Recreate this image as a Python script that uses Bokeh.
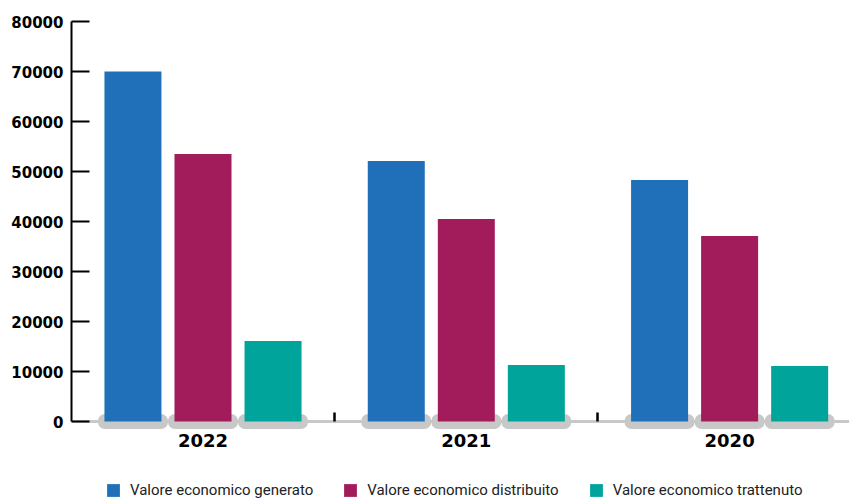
from bokeh.plotting import figure
from bokeh.models import ColumnDataSource, Range1d, FixedTicker, Span, Legend, LegendItem
from bokeh.transform import dodge
from bokeh.core.properties import value
from bokeh.embed import file_html
from bokeh.resources import INLINE

# ---- data ----
years = ["2022", "2021", "2020"]
series_names = ["Valore economico generato", "Valore economico distribuito", "Valore economico trattenuto"]
generato = [70000, 52100, 48300]
distribuito = [53500, 40500, 37100]
trattenuto = [16100, 11300, 11100]
y_ticks = [0, 10000, 20000, 30000, 40000, 50000, 60000, 70000, 80000]

colors = ["#1F70B8", "#A21B5B", "#00A49B"]
pill_color = "#C8C8C8"

pos = list(range(len(years)))
source = ColumnDataSource(dict(pos=pos, year=years, generato=generato,
                               distribuito=distribuito, trattenuto=trattenuto))

p = figure(width=849, height=501, output_backend="svg", toolbar_location=None,
           x_range=Range1d(-0.4994, 2.4553), y_range=Range1d(-16000, 80000),
           min_border_left=71, min_border_right=0, min_border_top=21, min_border_bottom=0)

p.grid.visible = False
p.outline_line_color = None
p.background_fill_color = "white"
p.border_fill_color = "white"

# baseline
p.add_layout(Span(location=0, dimension="width", line_color=pill_color, line_width=3, level="underlay"))

offsets = [-0.266, 0.0, 0.266]
cols = ["generato", "distribuito", "trattenuto"]

# rounded grey pills under the bars
for off in offsets:
    p.rect(x=dodge("pos", off, range=p.x_range), y=0, width=0.266, height=15,
           height_units="screen", source=source, fill_color=pill_color,
           line_color=None, border_radius=7)

renderers = []
for off, col, c in zip(offsets, cols, colors):
    r = p.vbar(x=dodge("pos", off, range=p.x_range), top=col, bottom=0, width=0.2165,
               source=source, fill_color=c, line_color=None)
    renderers.append(r)

# y axis
ya = p.yaxis[0]
ya.bounds = (0, 80000)
ya.ticker = FixedTicker(ticks=y_ticks)
ya.axis_line_color = "black"
ya.axis_line_width = 2
ya.major_tick_line_color = "black"
ya.major_tick_line_width = 2
ya.major_tick_in = 18
ya.major_tick_out = 0
ya.minor_tick_line_color = None
ya.major_label_standoff = 8
ya.major_label_text_font = "DejaVu Sans"
ya.major_label_text_font_style = "bold"
ya.major_label_text_font_size = "15px"
ya.major_label_text_color = "black"

# x axis at y = 0: year labels and separators between groups
xa = p.xaxis[0]
xa.fixed_location = 0
xa.ticker = FixedTicker(ticks=pos, minor_ticks=[i + 0.5 for i in pos[:-1]])
xa.major_label_overrides = {i: y for i, y in zip(pos, years)}
xa.axis_line_color = None
xa.major_tick_line_color = None
xa.major_tick_in = 0
xa.major_tick_out = 0
xa.minor_tick_line_color = "black"
xa.minor_tick_line_width = 2.5
xa.minor_tick_in = 9
xa.minor_tick_out = 0
xa.major_label_standoff = 12
xa.major_label_text_font = "DejaVu Sans"
xa.major_label_text_font_style = "bold"
xa.major_label_text_font_size = "18px"
xa.major_label_text_color = "black"

legend = Legend(items=[LegendItem(label=n, renderers=[r]) for n, r in zip(series_names, renderers)],
                location=(34, 2), orientation="horizontal",
                padding=0, margin=0, spacing=29, label_standoff=9,
                glyph_width=16, glyph_height=16, label_height=16,
                border_line_color=None, background_fill_alpha=0,
                label_text_font="Roboto", label_text_font_size="15px",
                label_text_color="#222222")
p.add_layout(legend)

open("out.html", "w").write(file_html(p, INLINE))
